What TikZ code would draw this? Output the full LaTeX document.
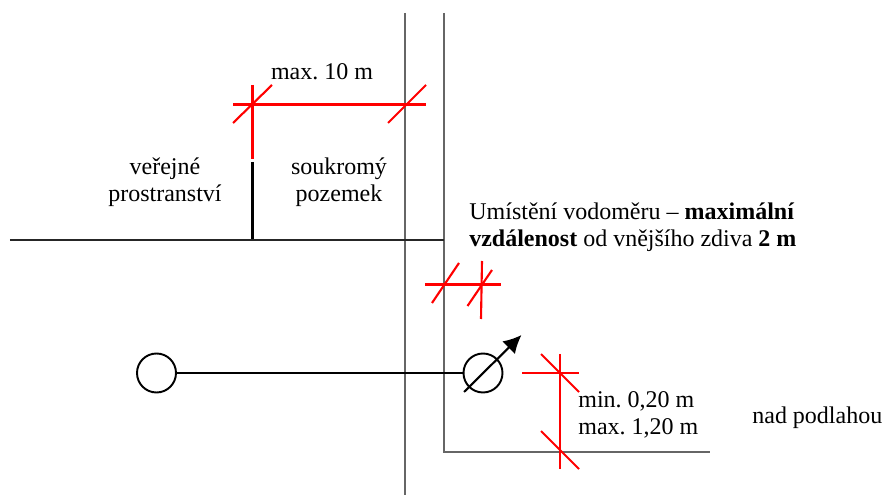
\documentclass[tikz,border=0pt]{standalone}
\usepackage{fontspec}
\setmainfont{Liberation Serif}
\frenchspacing
\usetikzlibrary{arrows.meta}
\usetikzlibrary{positioning}
\tikzset{
  stena/.style={draw=black!60,line width=0.8pt},
  kota/.style={draw=red,line width=1.2pt},
  potrubi/.style={draw=black,line width=1.2pt},
  uzel/.style={circle,draw=black,line width=1.1pt,minimum size=0.78cm,inner sep=0pt},
  popis/.style={inner sep=0pt,align=center,font=\fontsize{13.65}{15.2}\selectfont},
  popisl/.style={popis,align=left,anchor=west}
}
\begin{document}
\begin{tikzpicture}
\useasboundingbox (0,0) rectangle (17.66,9.9);
% steny a terén
\draw[stena] (8.1,9.64) -- (8.1,0);
\draw[stena] (8.88,9.64) -- (8.88,0.86) -- (14.2,0.86);
\draw[black!85,line width=0.7pt] (0.2,5.1) -- (8.88,5.1);
\draw[potrubi] (5.05,6.66) -- (5.05,5.12);
% potrubí a vodoměr
\node[uzel] (zdroj) at (3.13,2.44) {};
\node[uzel] (vodomer) at (9.66,2.44) {};
\draw[potrubi] (zdroj) -- (vodomer);
\draw[potrubi,-{Latex[length=3.6mm,width=3.6mm]}] (9.28,2.06) -- (10.43,3.2);
% kóty
\draw[kota] (4.66,7.81) -- (8.52,7.81);
\draw[kota] (5.05,8.2) -- (5.05,6.72);
\draw[kota] (8.5,4.21) -- (10.02,4.21);
\draw[kota] (9.64,4.68) -- (9.62,3.52);
\draw[kota] (10.44,2.44) -- (11.58,2.44);
\draw[kota] (11.2,2.82) -- (11.2,0.52);
\foreach \a/\b/\c/\d in {4.66/7.44/5.44/8.2,7.76/7.44/8.52/8.2,8.64/3.84/9.18/4.64,9.35/3.78/9.84/4.5,10.82/2.82/11.58/2.06,10.82/1.28/11.58/0.52}
    {
    \draw[kota] (\a,\b) -- (\c,\d);
    }
% popisky
\node[popis] (max) at (6.44,8.46) {max. 10 m};
\node[popis] (verejne) at (3.3,6.25) {veřejné\\prostranství};
\node[popis] (soukromy) at (6.78,6.25) {soukromý\\pozemek};
\node[popisl] (umisteni) at (9.38,5.36) {Umístění vodoměru -- \textbf{maximální}\\\textbf{vzdálenost} od vnějšího zdiva \textbf{2 m}};
\node[popisl] (vyska) at (11.56,1.6) {min. 0,20 m\\max. 1,20 m};
\node[popisl] (podlaha) at (15.04,1.54) {nad podlahou};
\end{tikzpicture}
\end{document}
